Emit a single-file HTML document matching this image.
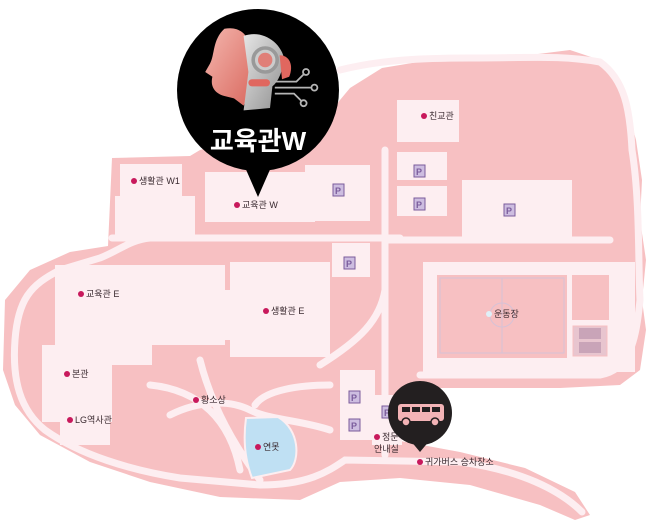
<!DOCTYPE html>
<html><head><meta charset="utf-8"><style>
html,body{margin:0;padding:0;background:#fff;}
svg{display:block;}
text{font-family:"Liberation Sans","Noto Sans CJK KR",sans-serif;}
.l{font-size:9px;fill:#3a2a30;}
</style></head><body>
<svg width="648" height="522" viewBox="0 0 648 522" xmlns="http://www.w3.org/2000/svg">
<defs>
<linearGradient id="fg" x1="0" y1="0" x2="1" y2="1"><stop offset="0" stop-color="#f4b6ae"/><stop offset="1" stop-color="#d9685e"/></linearGradient>
<linearGradient id="mg" x1="0" y1="0" x2="1" y2="1"><stop offset="0" stop-color="#e6e6e6"/><stop offset="1" stop-color="#8f8f8f"/></linearGradient>
</defs>
<path fill="#f7c0c2" d="M112,158 L190,156 L200,150 L330,112 L350,88 L382,68 L430,60 L480,56 L530,55 L570,50 L600,60 L618,80 L628,110 L636,140 L642,180 L640,220 L646,260 L642,300 L646,330 L640,370 L620,385 L560,388 L430,388 L405,395 L395,440 L460,452 L525,468 L575,492 L590,515 L575,520 L540,505 L470,485 L400,478 L340,482 L300,500 L220,497 L150,482 L90,462 L40,435 L15,405 L3,370 L5,300 L30,270 L70,252 L108,246 Z"/>
<g stroke="#fdeef1" fill="none" stroke-width="7" stroke-linecap="round">
<path d="M112,238 L400,238"/>
<path d="M150,238 C130,240 120,250 100,258 L60,270 C30,285 18,300 15,340 C12,380 20,410 45,430 C80,455 130,470 180,478 L260,485 C310,485 330,470 345,460 L460,462 C520,470 560,490 582,512"/>
<path d="M385,150 L385,455"/>
<path d="M385,240 L610,240"/>
<path d="M340,70 C380,60 420,58 470,58 C530,58 560,55 600,62 C625,80 630,110 632,150 C640,200 638,260 640,300 C636,340 630,370 600,375 L420,375"/>
<path d="M320,365 C360,340 380,320 385,290"/>
<path d="M200,360 C210,400 230,440 260,480"/>
<path d="M150,385 C200,390 230,420 240,470"/>
<path d="M170,415 C200,400 230,400 250,410 C270,420 300,420 330,430"/>
<path d="M255,405 C265,390 300,385 330,385"/>
</g>
<g fill="#fdeef1">
<rect x="120" y="164" width="62" height="32"/>
<rect x="115" y="196" width="80" height="40"/>
<rect x="205" y="172" width="110" height="50"/>
<rect x="305" y="165" width="65" height="56"/>
<rect x="397" y="100" width="62" height="42"/>
<rect x="397" y="152" width="50" height="28"/>
<rect x="397" y="186" width="50" height="30"/>
<rect x="462" y="180" width="110" height="62"/>
<rect x="332" y="243" width="38" height="34"/>
<rect x="55" y="265" width="170" height="80"/>
<rect x="230" y="262" width="100" height="95"/>
<rect x="210" y="290" width="30" height="50"/>
<rect x="42" y="345" width="110" height="20"/>
<rect x="42" y="352" width="70" height="70"/>
<rect x="60" y="400" width="50" height="45"/>
<rect x="340" y="370" width="35" height="70"/>
<rect x="372" y="395" width="30" height="50"/>
<rect x="423" y="262" width="212" height="110"/>
</g>
<rect x="437" y="275" width="130" height="83" fill="#f7c0c2"/>
<g stroke="#d6c2d6" fill="none" stroke-width="1">
<rect x="440" y="278" width="124" height="75"/>
<line x1="502" y1="278" x2="502" y2="353"/>
<circle cx="502" cy="315" r="12"/>
</g>
<rect x="572" y="275" width="37" height="45" fill="#f7c0c2"/>
<rect x="573" y="326" width="34" height="30" fill="#e8c5cf" stroke="#f7c0c2"/>
<rect x="579" y="328" width="22" height="11" fill="#c9a4b8"/>
<rect x="579" y="342" width="22" height="11" fill="#c9a4b8"/>
<path d="M246,418 L278,417 C300,430 300,460 290,470 L252,478 C245,460 243,440 246,418 Z" fill="#bfe0f3" stroke="#fdeef1" stroke-width="2"/>
<g font-size="9" font-weight="bold" fill="#7a5c9c">
<g><rect x="333" y="184" width="11" height="12" fill="#cdbde0" stroke="#7a5c9c"/><text x="335" y="194">P</text></g>
<g><rect x="414" y="165" width="11" height="12" fill="#cdbde0" stroke="#7a5c9c"/><text x="416" y="175">P</text></g>
<g><rect x="414" y="198" width="11" height="12" fill="#cdbde0" stroke="#7a5c9c"/><text x="416" y="208">P</text></g>
<g><rect x="504" y="204" width="11" height="12" fill="#cdbde0" stroke="#7a5c9c"/><text x="506" y="214">P</text></g>
<g><rect x="344" y="257" width="11" height="12" fill="#cdbde0" stroke="#7a5c9c"/><text x="346" y="267">P</text></g>
<g><rect x="349" y="391" width="11" height="12" fill="#cdbde0" stroke="#7a5c9c"/><text x="351" y="401">P</text></g>
<g><rect x="349" y="419" width="11" height="12" fill="#cdbde0" stroke="#7a5c9c"/><text x="351" y="429">P</text></g>
<g><rect x="382" y="406" width="11" height="12" fill="#cdbde0" stroke="#7a5c9c"/><text x="384" y="416">P</text></g>
</g>
<g fill="#c8195c">
<circle cx="134" cy="181" r="3"/><circle cx="237" cy="205" r="3"/><circle cx="424" cy="116" r="3"/>
<circle cx="81" cy="294" r="3"/><circle cx="266" cy="311" r="3"/><circle cx="67" cy="374" r="3"/>
<circle cx="70" cy="420" r="3"/><circle cx="196" cy="400" r="3"/><circle cx="258" cy="447" r="3"/>
<circle cx="377" cy="437" r="3"/><circle cx="420" cy="462" r="3"/>
</g>
<circle cx="489" cy="314" r="3" fill="#dff0f8"/>
<g class="l">
<text x="139" y="184">생활관 W1</text>
<text x="242" y="208">교육관 W</text>
<text x="429" y="119">친교관</text>
<text x="86" y="297">교육관 E</text>
<text x="271" y="314">생활관 E</text>
<text x="72" y="377">본관</text>
<text x="75" y="423">LG역사관</text>
<text x="201" y="403">황소상</text>
<text x="263" y="450">연못</text>
<text x="494" y="317">운동장</text>
<text x="382" y="440">정문</text>
<text x="374" y="452">안내실</text>
<text x="425" y="465">귀가버스 승차장소</text>
</g>
<circle cx="420" cy="413" r="32" fill="#231f20"/>
<path d="M410,440 L430,440 L420,452 Z" fill="#231f20"/>
<rect x="398" y="404" width="46" height="17" rx="3" fill="#f3b3b6"/>
<g fill="#231f20"><rect x="402" y="407" width="8" height="5"/><rect x="412" y="407" width="8" height="5"/><rect x="422" y="407" width="8" height="5"/><rect x="432" y="407" width="8" height="5"/></g>
<circle cx="406" cy="422" r="4" fill="#f3b3b6" stroke="#231f20" stroke-width="1.5"/>
<circle cx="435" cy="422" r="4" fill="#f3b3b6" stroke="#231f20" stroke-width="1.5"/>
<circle cx="258" cy="90" r="81" fill="#000"/>
<path d="M244,165 L272,165 L258,197 Z" fill="#000"/>
<g transform="translate(258,72) scale(1.2) translate(-258,-72)">
<path d="M230,36 C220,45 222,58 218,65 L214,72 L220,76 C218,84 222,90 230,92 L238,94 L246,100 L255,84 L252,50 C248,38 240,34 230,36 Z" fill="url(#fg)"/>
<path d="M246,42 C262,36 278,48 280,62 C278,72 275,80 270,84 L268,102 L246,104 L250,72 Z" fill="url(#mg)"/>
<circle cx="264" cy="62" r="10" fill="#ccc" stroke="#999" stroke-width="3"/>
<circle cx="264" cy="62" r="6" fill="#e07f78"/>
<path d="M276,58 C284,58 288,66 284,76 L278,78 Z" fill="#e0675f"/>
<rect x="250" y="78" width="18" height="6" rx="3" fill="#e0675f"/>
<g stroke="#b5b5b5" stroke-width="1.5" fill="none">
<path d="M272,80 L290,80 L296,74"/><circle cx="298" cy="72" r="2.5"/>
<path d="M272,85 L302,85"/><circle cx="305" cy="85" r="2.5"/>
<path d="M272,90 L288,90 L294,96"/><circle cx="296" cy="98" r="2.5"/>
</g>
</g>
<text x="258" y="150" text-anchor="middle" font-size="26" font-weight="bold" fill="#fff" style="font-family:'Liberation Sans','Noto Sans CJK KR',sans-serif">교육관W</text>
</svg>
</body></html>
